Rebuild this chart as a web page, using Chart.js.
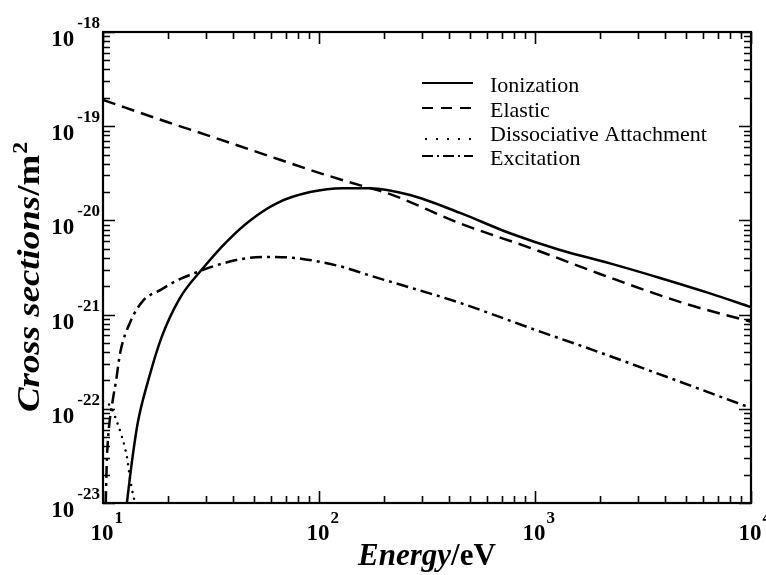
<!DOCTYPE html>
<html>
<head>
<meta charset="utf-8">
<script src="https://cdn.jsdelivr.net/npm/chart.js@4.4.1/dist/chart.umd.min.js"></script>
<style>
    html, body { margin: 0; padding: 0; background: #fff; }
    #wrap { width: 766px; height: 575px; }
</style>
</head>
<body>
<div id="wrap"><canvas id="myChart" width="766" height="575"></canvas></div>
<script>
// values (energy in eV, cross section in m^2)
const ionEnergy = [12.9, 13.6, 14.5, 16.2, 18.7, 22.7, 29, 37.5, 48, 64, 91, 129, 172, 264, 450, 766, 1306, 2223, 3790, 6460, 10000];
const ionCross = [1.0e-23, 2.7e-23, 7.2e-23, 2.0e-22, 5.8e-22, 1.5e-21, 3.1e-21, 6.0e-21, 1.0e-20, 1.53e-20, 2.0e-20, 2.2e-20, 2.2e-20, 1.86e-20, 1.2e-20, 7.3e-21, 4.85e-21, 3.5e-21, 2.45e-21, 1.68e-21, 1.2e-21];

const elasticEnergy = [10, 20, 30, 66, 100, 172, 207, 450, 1000, 2000, 5000, 10000];
const elasticCross = [1.9e-19, 1.1e-19, 8.1e-20, 4.4e-20, 3.2e-20, 2.2e-20, 1.95e-20, 9.3e-21, 4.9e-21, 2.7e-21, 1.3e-21, 8.4e-22];

const attEnergy = [10, 10.5, 11, 11.4, 12.25, 12.9, 13.3, 13.8, 14.1];
const attCross = [1.2e-22, 1.15e-22, 1.0e-22, 8.1e-23, 5.0e-23, 3.1e-23, 1.9e-23, 1.2e-23, 1.0e-23];

const excEnergy = [10.3, 10.4, 10.6, 11.1, 11.5, 12.0, 13.3, 15.3, 18.4, 22, 27, 31, 44, 61, 84, 129, 172, 450, 1000, 1860, 10000];
const excCross = [1.0e-23, 2.5e-23, 5.5e-23, 1.24e-22, 2.0e-22, 3.9e-22, 8.1e-22, 1.4e-21, 1.82e-21, 2.3e-21, 2.8e-21, 3.15e-21, 3.9e-21, 4.1e-21, 3.9e-21, 3.2e-21, 2.6e-21, 1.33e-21, 6.9e-22, 4.2e-22, 1.02e-22];

const seriesLabels = ['Ionization', 'Elastic', 'Dissociative Attachment', 'Excitation'];

const xTickValues = [10, 100, 1000, 10000];
const xTickExps = ['1', '2', '3', '4'];
const yTickValues = [1e-23, 1e-22, 1e-21, 1e-20, 1e-19, 1e-18];
const yTickExps = ['-23', '-22', '-21', '-20', '-19', '-18'];

const SERIF = '"Liberation Serif", "Times New Roman", serif';

function pts(xs, ys) {
    return xs.map((x, i) => ({ x: x, y: ys[i] }));
}

function minors(majors) {
    const out = [];
    majors.slice(0, -1).forEach(d => {
        for (let m = 2; m <= 9; m++) out.push(m * d);
    });
    return out;
}

// frame, inward ticks, tick labels, axis titles, legend
const decorPlugin = {
    id: 'decor',
    afterDraw(chart) {
        const { ctx, chartArea: a, scales: { x, y } } = chart;
        ctx.save();
        ctx.strokeStyle = '#000';
        ctx.fillStyle = '#000';

        // ticks on all four sides, pointing in
        ctx.lineWidth = 1.6;
        ctx.beginPath();
        const xt = xTickValues.map(v => [v, 12]).concat(minors(xTickValues).map(v => [v, 7]));
        xt.forEach(([v, len]) => {
            const px = Math.round(x.getPixelForValue(v)) + 0.5;
            ctx.moveTo(px, a.bottom); ctx.lineTo(px, a.bottom - len);
            ctx.moveTo(px, a.top); ctx.lineTo(px, a.top + len);
        });
        const yt = yTickValues.map(v => [v, 12]).concat(minors(yTickValues).map(v => [v, 7]));
        yt.forEach(([v, len]) => {
            const py = Math.round(y.getPixelForValue(v)) + 0.5;
            ctx.moveTo(a.left, py); ctx.lineTo(a.left + len, py);
            ctx.moveTo(a.right, py); ctx.lineTo(a.right - len, py);
        });
        ctx.stroke();

        ctx.lineWidth = 2.2;
        ctx.strokeRect(a.left, a.top, a.right - a.left, a.bottom - a.top);

        // x tick labels 10^n
        ctx.textBaseline = 'alphabetic';
        xTickValues.forEach((v, i) => {
            const px = x.getPixelForValue(v);
            ctx.font = 'bold 23px ' + SERIF;
            ctx.textAlign = 'center';
            ctx.fillText('10', px - 1, a.bottom + 37);
            const w = ctx.measureText('10').width;
            ctx.font = 'bold 17px ' + SERIF;
            ctx.textAlign = 'left';
            ctx.fillText(xTickExps[i], px - 1 + w / 2 + 1, a.bottom + 20);
        });

        // y tick labels 10^-n
        yTickValues.forEach((v, i) => {
            const py = y.getPixelForValue(v);
            ctx.font = 'bold 17px ' + SERIF;
            ctx.textAlign = 'right';
            ctx.fillText(yTickExps[i], a.left - 3, py - 4);
            const ew = ctx.measureText(yTickExps[i]).width;
            ctx.font = 'bold 23px ' + SERIF;
            ctx.fillText('10', a.left - 6 - ew, py + 14);
        });

        // x title
        ctx.textAlign = 'left';
        ctx.font = 'italic bold 31px ' + SERIF;
        const t1 = 'Energy';
        const w1 = ctx.measureText(t1).width;
        ctx.font = 'bold 31px ' + SERIF;
        const t2 = '/eV';
        const w2 = ctx.measureText(t2).width;
        const sx = (a.left + a.right) / 2 - (w1 + w2) / 2;
        ctx.font = 'italic bold 31px ' + SERIF;
        ctx.fillText(t1, sx, a.bottom + 62);
        ctx.font = 'bold 31px ' + SERIF;
        ctx.fillText(t2, sx + w1, a.bottom + 62);

        // y title (rotated, a bit stretched along the text)
        ctx.save();
        ctx.translate(39, (a.top + a.bottom) / 2 + 10);
        ctx.rotate(-Math.PI / 2);
        ctx.scale(1.19, 1);
        ctx.font = 'italic bold 31px ' + SERIF;
        const y1 = 'Cross sections';
        const yw1 = ctx.measureText(y1).width;
        ctx.font = 'bold 31px ' + SERIF;
        const y2 = '/m';
        const yw2 = ctx.measureText(y2).width;
        ctx.font = 'bold 20px ' + SERIF;
        const yw3 = ctx.measureText('2').width;
        const sy = -(yw1 + yw2 + yw3) / 2;
        ctx.font = 'italic bold 31px ' + SERIF;
        ctx.fillText(y1, sy, 0);
        ctx.font = 'bold 31px ' + SERIF;
        ctx.fillText(y2, sy + yw1, 0);
        ctx.font = 'bold 20px ' + SERIF;
        ctx.fillText('2', sy + yw1 + yw2 + 1, -12);
        ctx.restore();

        // legend
        const lx0 = 422, lx1 = 473, tx = 490;
        const rows = [92, 117, 141, 165];
        const dashes = [[], [11, 8], null, [11, 4, 2, 4]];
        ctx.font = '22px ' + SERIF;
        ctx.textAlign = 'left';
        seriesLabels.forEach((lab, i) => {
            const ly = rows[i] - 9;
            if (dashes[i]) {
                ctx.lineWidth = 1.8;
                ctx.setLineDash(dashes[i]);
                ctx.beginPath();
                ctx.moveTo(lx0, ly); ctx.lineTo(lx1, ly);
                ctx.stroke();
                ctx.setLineDash([]);
            } else {
                for (let k = 0; k < 5; k++) {
                    ctx.fillRect(lx0 + 3 + k * 11, rows[i] - 3, 2, 2);
                }
            }
            ctx.fillText(lab, tx, rows[i]);
        });

        ctx.restore();
    }
};

const lineBase = {
    borderColor: '#000',
    borderWidth: 2.5,
    pointRadius: 0,
    fill: false,
    cubicInterpolationMode: 'monotone'
};

new Chart(document.getElementById('myChart'), {
    type: 'line',
    data: {
        datasets: [
            { ...lineBase, label: seriesLabels[0], data: pts(ionEnergy, ionCross) },
            { ...lineBase, label: seriesLabels[1], data: pts(elasticEnergy, elasticCross), borderDash: [13, 7] },
            { ...lineBase, label: seriesLabels[2], data: pts(attEnergy, attCross), borderDash: [0, 7], borderCapStyle: 'round' },
            { ...lineBase, label: seriesLabels[3], data: pts(excEnergy, excCross), borderDash: [12, 5, 3, 5] }
        ]
    },
    options: {
        responsive: false,
        animation: false,
        devicePixelRatio: 1,
        layout: { padding: { left: 103, top: 32, right: 15, bottom: 72 } },
        plugins: {
            legend: { display: false },
            tooltip: { enabled: false }
        },
        scales: {
            x: { type: 'logarithmic', min: 10, max: 10000, display: false },
            y: { type: 'logarithmic', min: 1e-23, max: 1e-18, display: false }
        }
    },
    plugins: [decorPlugin]
});
</script>
</body>
</html>
